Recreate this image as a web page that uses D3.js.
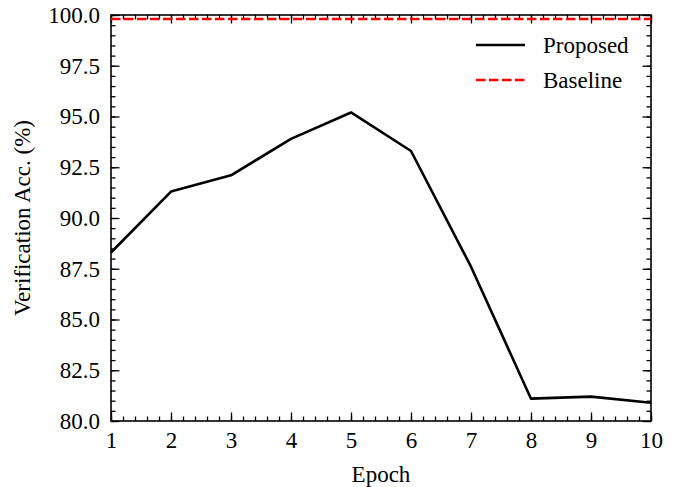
<!DOCTYPE html>
<html>
<head>
<meta charset="utf-8">
<script src="https://cdn.jsdelivr.net/npm/d3@7"></script>
<style>
  body { margin: 0; background: #fff; }
  text { font-family: "Liberation Serif", "DejaVu Serif", serif; fill: #000; }
</style>
</head>
<body>
<div id="chart"></div>
<script>
// data
const epochs = [1, 2, 3, 4, 5, 6, 7, 8, 9, 10];
const proposed = [88.3, 91.3, 92.1, 93.9, 95.2, 93.3, 87.6, 81.1, 81.2, 80.9];
const baseline = 99.8;
const yTicks = [80.0, 82.5, 85.0, 87.5, 90.0, 92.5, 95.0, 97.5, 100.0];

const width = 677, height = 487;
const margin = {top: 15, right: 26, bottom: 66, left: 111};
const w = width - margin.left - margin.right,
      h = height - margin.top - margin.bottom;
const fontSize = "23px";

const svg = d3.select("#chart").append("svg")
    .attr("width", width)
    .attr("height", height)
  .append("g")
    .attr("transform", "translate(" + margin.left + "," + margin.top + ")");

const x = d3.scaleLinear().domain([1, 10]).range([0, w]);
const y = d3.scaleLinear().domain([80, 100]).range([h, 0]);

const major = 8.5, minor = 4.5;
const xMinor = d3.range(1, 10.001, 0.2);
const yMinor = d3.range(80, 100.001, 0.5);

// inward ticks on all four sides
svg.append("g").attr("transform", "translate(0," + h + ")")
  .call(d3.axisBottom(x).tickValues(xMinor).tickSize(-minor).tickFormat(""));
svg.append("g").attr("transform", "translate(0," + h + ")")
  .call(d3.axisBottom(x).tickValues(epochs).tickSize(-major).tickPadding(11).tickFormat(d3.format("d")));
svg.append("g")
  .call(d3.axisTop(x).tickValues(xMinor).tickSize(-minor).tickFormat(""));
svg.append("g")
  .call(d3.axisTop(x).tickValues(epochs).tickSize(-major).tickFormat(""));

svg.append("g")
  .call(d3.axisLeft(y).tickValues(yMinor).tickSize(-minor).tickFormat(""));
svg.append("g")
  .call(d3.axisLeft(y).tickValues(yTicks).tickSize(-major).tickPadding(11).tickFormat(d3.format(".1f")));
svg.append("g").attr("transform", "translate(" + w + ",0)")
  .call(d3.axisRight(y).tickValues(yMinor).tickSize(-minor).tickFormat(""));
svg.append("g").attr("transform", "translate(" + w + ",0)")
  .call(d3.axisRight(y).tickValues(yTicks).tickSize(-major).tickFormat(""));

svg.selectAll(".domain").remove();
svg.selectAll(".tick line").attr("stroke", "#000").attr("stroke-width", 1.3);
svg.selectAll(".tick text").style("font-size", fontSize)
  .style("font-family", "'Liberation Serif', serif").attr("fill", "#000");

svg.append("rect")
  .attr("width", w).attr("height", h)
  .attr("fill", "none").attr("stroke", "#000").attr("stroke-width", 1.6);

const line = d3.line()
  .x(function(d, i) { return x(epochs[i]); })
  .y(function(d) { return y(d); });

svg.append("path")
  .datum(proposed)
  .attr("d", line)
  .attr("fill", "none")
  .attr("stroke", "#000")
  .attr("stroke-width", 2.6)
  .attr("stroke-linejoin", "round");

svg.append("line")
  .attr("x1", 0).attr("x2", w)
  .attr("y1", y(baseline)).attr("y2", y(baseline))
  .attr("stroke", "#ff0000")
  .attr("stroke-width", 2.6)
  .attr("stroke-dasharray", "9.5,3.5");

// legend
const legend = svg.append("g").attr("transform", "translate(" + (476 - margin.left) + "," + (45 - margin.top) + ")");
const items = [
  {name: "Proposed", color: "#000", dash: null},
  {name: "Baseline", color: "#ff0000", dash: "9.5,3.5"}
];
items.forEach(function(d, i) {
  const g = legend.append("g").attr("transform", "translate(0," + i * 35 + ")");
  g.append("line").attr("x1", 0).attr("x2", 49)
    .attr("stroke", d.color).attr("stroke-width", 2.6)
    .attr("stroke-dasharray", d.dash);
  g.append("text").attr("x", 67).attr("dy", "0.35em")
    .style("font-size", fontSize).text(d.name);
});

svg.append("text")
  .attr("x", w / 2).attr("y", h + 61)
  .attr("text-anchor", "middle")
  .style("font-size", fontSize)
  .text("Epoch");

svg.append("text")
  .attr("transform", "translate(" + (-81) + "," + (h / 2) + ")rotate(-90)")
  .attr("text-anchor", "middle")
  .style("font-size", fontSize)
  .text("Verification Acc. (%)");
</script>
</body>
</html>
